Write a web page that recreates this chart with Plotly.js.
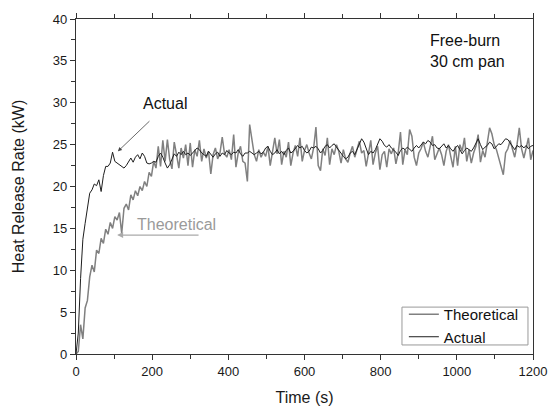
<!DOCTYPE html>
<html>
<head>
<meta charset="utf-8">
<script src="https://cdn.plot.ly/plotly-3.0.1.min.js"></script>
<style>html,body{margin:0;padding:0;background:#fff;}#chart{width:548px;height:408px;}</style>
</head>
<body>
<div id="chart"></div>
<script>
// Sampling: one value every 6 s from t = 0 s to t = 1200 s
var timeStart = 0;
var timeStep = 6;

var theoretical = [
0,0.3,3.5,1.8,5.5,6.4,9.2,10.6,9.8,12.4,
12.0,13.8,13.2,14.9,14.3,15.7,15.0,16.4,16.0,16.9,
14.4,17.4,17.9,17.2,19.0,18.4,19.5,18.9,20.0,19.5,
20.6,20.0,21.7,21.2,23.0,22.2,24.8,22.4,25.5,23.0,
25.6,23.2,22.1,25.3,23.8,22.2,24.6,23.4,25.0,22.5,
25.2,22.3,24.4,23.6,25.5,23.0,24.5,23.4,24.2,21.5,
23.8,24.6,23.3,24.0,25.9,23.9,23.5,24.4,23.2,26.2,
22.3,24.0,24.8,23.0,22.8,20.6,27.4,25.5,23.8,23.0,
24.4,23.5,24.1,23.6,24.8,22.5,24.0,25.8,23.9,25.6,
22.6,24.2,23.5,25.3,22.5,24.0,24.9,23.6,25.8,23.0,
24.3,25.0,24.0,23.3,24.6,27.1,22.5,21.9,24.5,23.7,
25.8,22.6,24.5,23.8,25.0,24.2,22.8,24.4,23.3,22.9,
24.0,24.8,23.5,24.6,25.4,24.0,24.3,22.4,24.0,25.5,
22.6,24.0,24.8,22.0,23.8,24.2,22.3,24.5,23.9,24.6,
22.7,24.0,26.5,22.6,24.4,23.8,26.8,26.0,23.5,22.5,
24.0,24.5,25.3,24.2,23.5,24.8,26.0,23.2,24.0,24.6,
23.8,22.5,24.2,25.0,23.6,22.3,24.8,22.5,25.0,24.2,
25.8,23.0,24.4,22.8,24.0,24.8,26.2,22.9,24.3,23.5,
25.2,27.0,26.3,25.0,24.4,23.5,22.4,21.4,24.0,24.5,
25.5,24.4,23.5,25.0,27.0,24.5,23.4,24.6,25.8,23.2,
24.3
];

var actual = [
0,2.5,9.0,13.7,15.6,17.6,19.2,19.6,20.3,20.1,
20.8,19.4,21.3,22.4,22.4,22.8,24.1,23.0,22.8,22.6,
22.5,22.2,22.5,23.0,23.4,22.9,23.5,23.8,23.3,24.0,
23.6,22.8,22.7,22.8,23.0,22.9,23.6,24.0,23.5,22.8,
22.2,22.6,23.3,23.9,23.6,24.1,23.8,24.2,23.8,24.0,
23.7,24.0,24.2,24.6,24.4,24.0,23.8,23.6,24.2,23.9,
23.5,23.9,24.1,23.6,24.0,23.8,24.3,24.0,23.8,24.1,
24.0,24.4,23.9,23.6,24.0,24.0,24.2,24.0,23.8,24.0,
24.2,23.9,24.1,24.6,24.8,24.2,23.8,24.0,24.4,23.9,
24.2,23.8,24.3,24.6,24.0,24.2,24.5,24.9,24.6,24.8,
24.3,24.0,24.2,24.7,24.6,24.8,24.5,24.0,24.3,24.8,
25.0,24.6,24.9,25.1,24.7,24.3,24.0,23.6,23.3,23.5,
24.0,24.2,23.8,24.4,25.1,25.7,25.3,24.6,23.8,24.2,
24.0,24.4,25.0,25.7,25.4,24.9,24.7,25.0,24.6,24.4,
24.1,23.7,24.3,24.6,24.4,24.7,24.5,24.2,24.6,24.9,
24.6,24.9,25.3,25.1,25.5,25.3,24.9,25.0,24.6,24.5,
24.8,25.1,24.6,24.9,24.5,24.2,24.6,24.9,24.4,23.9,
24.3,24.6,24.4,24.2,24.6,25.1,25.7,25.0,24.4,24.7,
24.9,25.3,25.1,24.5,24.8,25.1,25.0,25.4,25.7,25.6,
25.2,24.7,24.4,24.9,24.7,24.9,24.6,24.9,24.5,24.8,
24.9
];

var seriesNames = ["Theoretical", "Actual"];
var xTitle = "Time (s)";
var yTitle = "Heat Release Rate (kW)";
var noteText = "Free-burn<br>30 cm pan";

var FONT = "Liberation Sans, Arial, sans-serif";

var traces = [
  {x0: timeStart, dx: timeStep, y: theoretical, type: "scatter", mode: "lines",
   name: seriesNames[0], line: {color: "#808080", width: 1.5}},
  {x0: timeStart, dx: timeStep, y: actual, type: "scatter", mode: "lines",
   name: seriesNames[1], line: {color: "#1e1e1e", width: 1}}
];

var layout = {
  width: 548, height: 408,
  margin: {l: 76, r: 15, t: 19, b: 54},
  paper_bgcolor: "#fff", plot_bgcolor: "#fff",
  font: {family: FONT, size: 13, color: "#1a1a1a"},
  showlegend: true,
  legend: {x: 0.98, xanchor: "right", y: 0.003, yanchor: "bottom",
           borderwidth: 0, bgcolor: "rgba(255,255,255,0)",
           font: {family: FONT, size: 15, color: "#111"},
           tracegroupgap: 0, itemwidth: 30},
  shapes: [
    {type: "rect", xref: "paper", yref: "paper", x0: 0.7133, x1: 0.989, y0: 0.027, y1: 0.140,
     line: {color: "#999", width: 1}, fillcolor: "rgba(0,0,0,0)", layer: "above"}
  ],
  xaxis: {range: [0, 1200], dtick: 200, tick0: 0, ticks: "outside", ticklen: 5,
          tickwidth: 1, tickcolor: "#333", showline: true, linecolor: "#333", linewidth: 1.2,
          mirror: "ticks", showgrid: false, zeroline: false,
          minor: {dtick: 100, ticks: "outside", ticklen: 4, tickcolor: "#333", showgrid: false},
          tickfont: {size: 13},
          title: {text: xTitle, font: {size: 16}, standoff: 14}},
  yaxis: {range: [0, 40], dtick: 5, tick0: 0, ticks: "outside", ticklen: 5,
          tickwidth: 1, tickcolor: "#333", showline: true, linecolor: "#333", linewidth: 1.2,
          mirror: true, showgrid: false, zeroline: false,
          minor: {dtick: 2.5, ticks: "outside", ticklen: 4, tickcolor: "#333", showgrid: false},
          tickfont: {size: 13},
          title: {text: yTitle, font: {size: 16}, standoff: 24}},
  annotations: [
    {xref: "paper", yref: "paper", x: 0.770, y: 0.967, xanchor: "left", yanchor: "top",
     align: "left", text: noteText, showarrow: false, font: {size: 16, color: "#111"}},
    {xref: "x", yref: "y", x: 234, y: 29.9, text: "Actual", showarrow: false,
     font: {size: 16, color: "#111"}},
    {xref: "x", yref: "y", x: 110, y: 24.2, axref: "x", ayref: "y", ax: 202, ay: 28.2,
     text: " ", showarrow: true, arrowhead: 2, arrowsize: 1, arrowwidth: 0.8, arrowcolor: "#444"},
    {xref: "x", yref: "y", x: 265, y: 15.5, text: "Theoretical", showarrow: false,
     font: {size: 16, color: "#9a9a9a"}},
    {xref: "x", yref: "y", x: 108, y: 14.2, axref: "x", ayref: "y", ax: 331, ay: 14.2,
     text: " ", showarrow: true, arrowhead: 2, arrowsize: 1, arrowwidth: 1.2, arrowcolor: "#aaa"}
  ]
};

Plotly.newPlot("chart", traces, layout, {staticPlot: true, displayModeBar: false});
</script>
</body>
</html>
